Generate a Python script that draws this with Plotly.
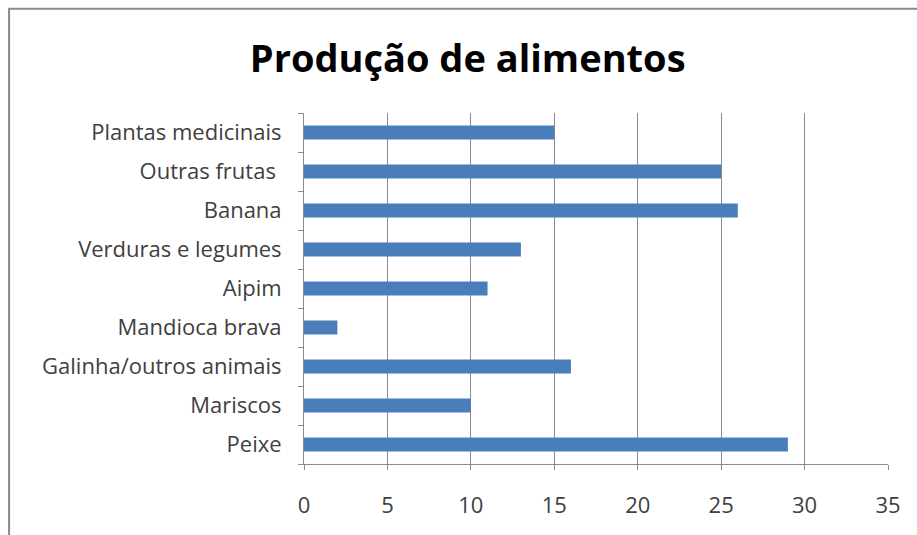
import plotly.graph_objects as go

# Food production by category (bottom to top as drawn)
categories = [
    "Peixe",
    "Mariscos",
    "Galinha/outros animais",
    "Mandioca brava",
    "Aipim",
    "Verduras e legumes",
    "Banana",
    "Outras frutas\u00a0",
    "Plantas medicinais",
]
values = [29, 10, 16, 2, 11, 13, 26, 25, 15]
x_ticks = [0, 5, 10, 15, 20, 25, 30, 35]

BAR = "#4A7EBB"
GRID = "#8C8C8C"
TEXT = "#404040"
FONT = "Open Sans"

fig = go.Figure(
    go.Bar(
        x=values,
        y=categories,
        orientation="h",
        marker=dict(color=BAR, line=dict(width=0)),
    )
)

fig.update_layout(
    width=917,
    height=535,
    margin=dict(l=304, r=29, t=113, b=71),
    paper_bgcolor="white",
    plot_bgcolor="white",
    showlegend=False,
    bargap=0.64,
    title=dict(
        text="<b>Produção de alimentos</b>",
        font=dict(family=FONT, size=38, color="#000000"),
        x=0.51,
        xanchor="center",
        y=0.89,
        yanchor="middle",
    ),
    font=dict(family=FONT, size=22, color=TEXT),
    shapes=[
        dict(
            type="rect",
            xref="paper",
            yref="paper",
            x0=-0.505,
            x1=1.06,
            y0=-0.22,
            y1=1.297,
            line=dict(color="#8A8A8A", width=2),
            fillcolor="rgba(0,0,0,0)",
            layer="below",
        )
    ],
)

fig.update_xaxes(
    range=[0, 35],
    tickvals=x_ticks,
    showgrid=True,
    gridcolor=GRID,
    gridwidth=1,
    zeroline=False,
    showline=True,
    linecolor=GRID,
    linewidth=1,
    ticks="outside",
    ticklen=5,
    tickcolor=GRID,
    ticklabelstandoff=17,
    tickfont=dict(family=FONT, size=22, color=TEXT),
)

fig.update_yaxes(
    categoryorder="array",
    categoryarray=categories,
    showgrid=False,
    zeroline=False,
    showline=True,
    linecolor=GRID,
    linewidth=1,
    ticks="outside",
    tickson="boundaries",
    ticklen=5,
    tickcolor=GRID,
    ticklabelstandoff=17,
    tickfont=dict(family=FONT, size=22, color=TEXT),
)

fig.write_html("out.html")
